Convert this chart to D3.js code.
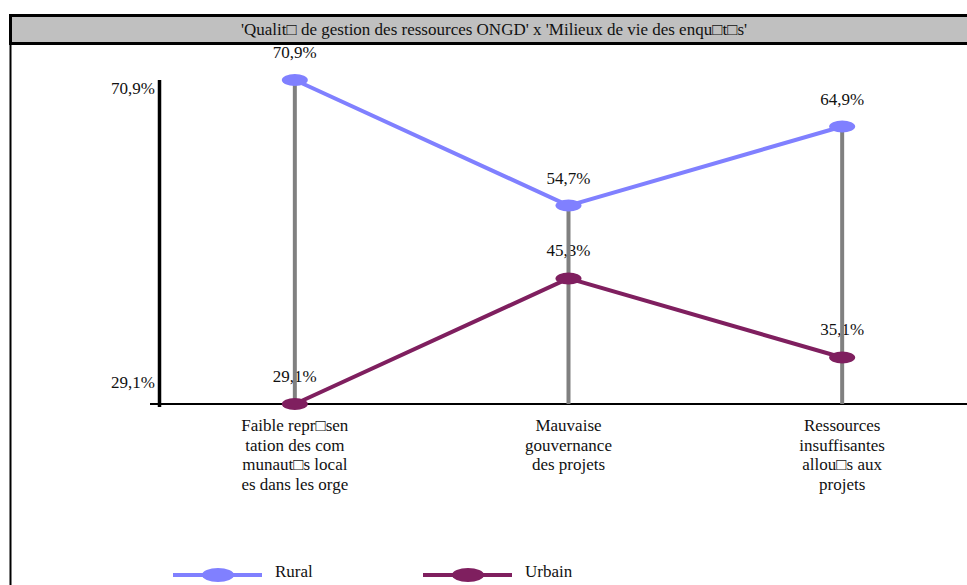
<!DOCTYPE html>
<html>
<head>
<meta charset="utf-8">
<script src="https://cdn.jsdelivr.net/npm/d3@7"></script>
<style>
  html, body { margin: 0; padding: 0; background: #fff; }
  svg { display: block; }
  #chart text { font-family: "Liberation Serif", "Times New Roman", serif; fill: #111; }
</style>
</head>
<body>
<svg id="chart" width="967" height="585"></svg>
<script>
// Chart data
const title = "'Qualit\u25A1 de gestion des ressources ONGD' x 'Milieux de vie des enqu\u25A1t\u25A1s'";
const categories = [
  ["Faible repr\u25A1sen", "tation des com", "munaut\u25A1s local", "es dans les orge"],
  ["Mauvaise", "gouvernance", "des projets"],
  ["Ressources", "insuffisantes", "allou\u25A1s aux", "projets"]
];
const categoryKeys = ["c1", "c2", "c3"];
const rural = [70.9, 54.7, 64.9];
const urbain = [29.1, 45.3, 35.1];
const yTicks = [29.1, 70.9];
const seriesNames = ["Rural", "Urbain"];
const seriesColors = ["#8080ff", "#7f1f5f"];

const svg = d3.select("#chart");
const fmt = v => v.toFixed(1).replace(".", ",") + "%";
const FS = 17;

// Frame and title bar
svg.append("rect").attr("x", 10.5).attr("y", 15.5).attr("width", 968).attr("height", 600)
  .attr("fill", "#fff").attr("stroke", "#000").attr("stroke-width", 2);
svg.append("rect").attr("x", 10.5).attr("y", 15.5).attr("width", 968).attr("height", 28)
  .attr("fill", "#c0c0c0").attr("stroke", "#000").attr("stroke-width", 3);
svg.append("text").attr("x", 494).attr("y", 35).attr("text-anchor", "middle")
  .attr("font-size", FS).text(title);

// Scales
const x = d3.scalePoint().domain(categoryKeys).range([158, 979]).padding(0.5);
const y = d3.scaleLinear().domain([29.1, 70.9]).range([404, 80]);

// Axes
svg.append("line").attr("x1", 150).attr("x2", 980).attr("y1", y(29.1)).attr("y2", y(29.1))
  .attr("stroke", "#000").attr("stroke-width", 2);
svg.append("line").attr("x1", 159.5).attr("x2", 159.5).attr("y1", y(70.9)).attr("y2", y(29.1) + 3)
  .attr("stroke", "#000").attr("stroke-width", 3.5);
const tickOffsets = { 29.1: -16, 70.9: 14 };
svg.selectAll(".ytick").data(yTicks).join("text")
  .attr("class", "ytick")
  .attr("x", 155).attr("y", d => y(d) + tickOffsets[d])
  .attr("text-anchor", "end").attr("font-size", FS)
  .text(fmt);

// Category labels
categories.forEach((lines, i) => {
  const t = svg.append("text").attr("text-anchor", "middle").attr("font-size", FS);
  lines.forEach((ln, j) => {
    t.append("tspan").attr("x", x(categoryKeys[i])).attr("y", 431 + j * 19.7).text(ln);
  });
});

// Value labels (drawn beneath the marks)
const series = [rural, urbain];
series.forEach(vals => {
  svg.selectAll(null).data(vals).join("text")
    .attr("x", (d, i) => x(categoryKeys[i]))
    .attr("y", d => y(d) - 22)
    .attr("text-anchor", "middle").attr("font-size", FS)
    .text(fmt);
});

// Drop lines from the higher point to the baseline
categoryKeys.forEach((k, i) => {
  svg.append("line").attr("x1", x(k)).attr("x2", x(k))
    .attr("y1", y(Math.max(rural[i], urbain[i]))).attr("y2", y(29.1))
    .attr("stroke", "#808080").attr("stroke-width", 4);
});

// Series lines and markers
series.forEach((vals, s) => {
  const line = d3.line().x((d, i) => x(categoryKeys[i])).y(d => y(d));
  svg.append("path").datum(vals).attr("d", line)
    .attr("fill", "none").attr("stroke", seriesColors[s]).attr("stroke-width", 4);
  svg.selectAll(null).data(vals).join("ellipse")
    .attr("cx", (d, i) => x(categoryKeys[i])).attr("cy", d => y(d))
    .attr("rx", 13).attr("ry", 6).attr("fill", seriesColors[s]);
});

// Legend
const legendX = [173, 423];
seriesNames.forEach((name, s) => {
  const lx = legendX[s];
  svg.append("line").attr("x1", lx).attr("x2", lx + 89).attr("y1", 575).attr("y2", 575)
    .attr("stroke", seriesColors[s]).attr("stroke-width", 4);
  svg.append("ellipse").attr("cx", lx + 45).attr("cy", 575).attr("rx", 16).attr("ry", 7)
    .attr("fill", seriesColors[s]);
  svg.append("text").attr("x", lx + 102).attr("y", 577).attr("font-size", FS).text(name);
});
</script>
</body>
</html>
